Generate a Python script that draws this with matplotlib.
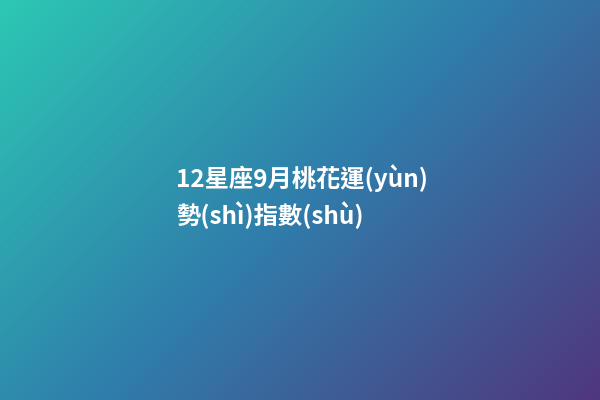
import matplotlib
matplotlib.use("Agg")
import matplotlib.pyplot as plt
import numpy as np
from matplotlib.colors import LinearSegmentedColormap

# title lines shown on the card
title_lines = ["12星座9月桃花運(yùn)", "勢(shì)指數(shù)"]

# gradient stops, top-left -> bottom-right
stop_pos = [0.0, 0.5, 1.0]
stop_colors = ["#2cc8b4", "#307dab", "#50377d"]

W, H = 600, 400

fig = plt.figure(figsize=(6, 4), dpi=100)
ax = fig.add_axes([0, 0, 1, 1])
ax.set_axis_off()

cmap = LinearSegmentedColormap.from_list("bg", list(zip(stop_pos, stop_colors)))
xx, yy = np.meshgrid(np.arange(W), np.arange(H))
grad = (xx + yy) / (W + H - 2)
ax.imshow(grad, cmap=cmap, extent=[0, W, H, 0], aspect="auto", vmin=0, vmax=1)
ax.set_xlim(0, W)
ax.set_ylim(H, 0)

fam = ["Noto Sans CJK TC", "DejaVu Sans"]
ax.text(176, 178, title_lines[0], color="white", fontsize=17.5, fontweight="bold",
        family=fam, va="center", ha="left")
ax.text(176, 215, title_lines[1], color="white", fontsize=17.5, fontweight="bold",
        family=fam, va="center", ha="left")

fig.savefig("out.png", dpi=100)
